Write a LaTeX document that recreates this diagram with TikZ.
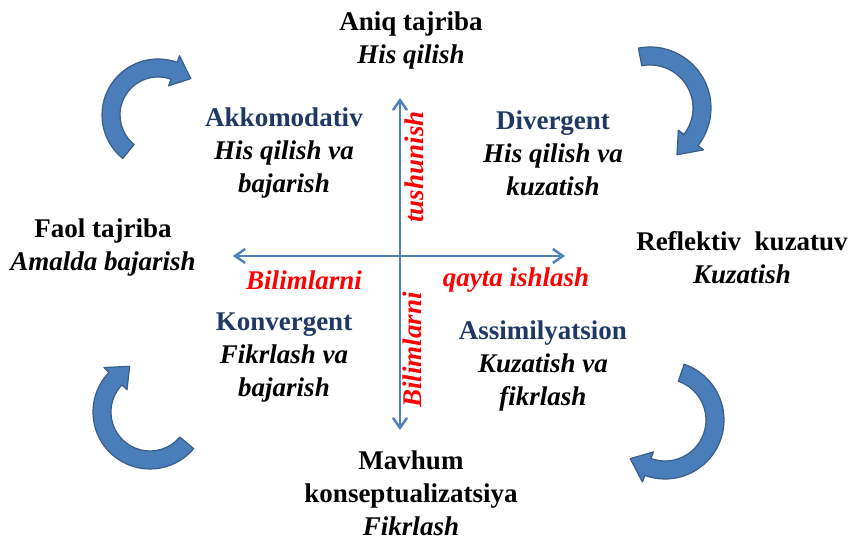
\documentclass[tikz,border=0pt]{standalone}
\usepackage{fontspec}
\setmainfont{Liberation Serif}
\usetikzlibrary{arrows.meta,calc}
\usepackage{xcolor}
\definecolor{axis}{HTML}{4F81BD}
\definecolor{cyc}{HTML}{4A7EBB}
\definecolor{cycedge}{HTML}{385D8A}
\definecolor{title}{HTML}{1F3864}

\newcommand\cyclearrow[5]{%
  \filldraw[cycle arrow] ($(#1)+(#3:#2+9)$) arc[start angle=#3, end angle=#4, radius=#2+9]
    -- ($(#1)+(#4:#2+16)$) -- ($(#1)+(#5:#2+2)$) -- ($(#1)+(#4:#2-16)$)
    -- ($(#1)+(#4:#2-9)$) arc[start angle=#4, end angle=#3, radius=#2-9] -- cycle;}

\begin{document}
\begin{tikzpicture}[x=0.5pt,y=-0.5pt,
  stage/.style={font=\fontsize{13.5}{16.5}\selectfont\bfseries, align=center, inner sep=0pt},
  style box/.style={stage},
  process/.style={font=\fontsize{13.5}{16.5}\selectfont\bfseries\itshape, text=red, inner sep=0pt},
  axis line/.style={draw=axis, line width=1.25pt, {Straight Barb[length=5pt,width=7pt]}-{Straight Barb[length=5pt,width=7pt]}},
  cycle arrow/.style={fill=cyc, draw=cycedge, line width=0.6pt, line join=round}]
\useasboundingbox (0,0) rectangle (848,539);

\coordinate (west) at (233,256);
\coordinate (east) at (565,256);
\coordinate (north) at (400,98);
\coordinate (south) at (400,430);
\draw[axis line] (west) -- (east);
\draw[axis line] (south) -- (north);

\node[stage] (concrete) at (411,41) {Aniq tajriba\\\textit{His qilish}};
\node[stage] (active) at (103,248) {Faol tajriba\\\textit{Amalda bajarish}};
\node[stage] (reflective) at (742,258) {Reflektiv\ \ kuzatuv\\\textit{Kuzatish}};
\node[stage] (abstract) at (411,493) {Mavhum\\konseptualizatsiya\\\textit{Fikrlash}};

\node[style box] (accommodating) at (284,153) {\textcolor{title}{Akkomodativ}\\\textit{His qilish va}\\\textit{bajarish}};
\node[style box] (diverging) at (553,153) {\textcolor{title}{Divergent}\\\textit{His qilish va}\\\textit{kuzatish}};
\node[style box] (converging) at (284,358) {\textcolor{title}{Konvergent}\\\textit{Fikrlash va}\\\textit{bajarish}};
\node[style box] (assimilating) at (543,366) {\textcolor{title}{Assimilyatsion}\\\textit{Kuzatish va}\\\textit{fikrlash}};

\node[process] (left label) at (304,280) {Bilimlarni};
\node[process] (right label) at (516,280) {qayta ishlash};
\node[process, rotate=90] (up label) at (414,167) {tushunish};
\node[process, rotate=90] (down label) at (412,350) {Bilimlarni};

\coordinate (c1) at (158,115);
\coordinate (c2) at (650,108);
\coordinate (c3) at (150,412);
\coordinate (c4) at (665,420);
\cyclearrow{c1}{47}{129}{290}{312}
\cyclearrow{c2}{52}{259}{398}{420}
\cyclearrow{c3}{48}{40}{224}{246}
\cyclearrow{c4}{50}{289}{470}{492}
\end{tikzpicture}
\end{document}
